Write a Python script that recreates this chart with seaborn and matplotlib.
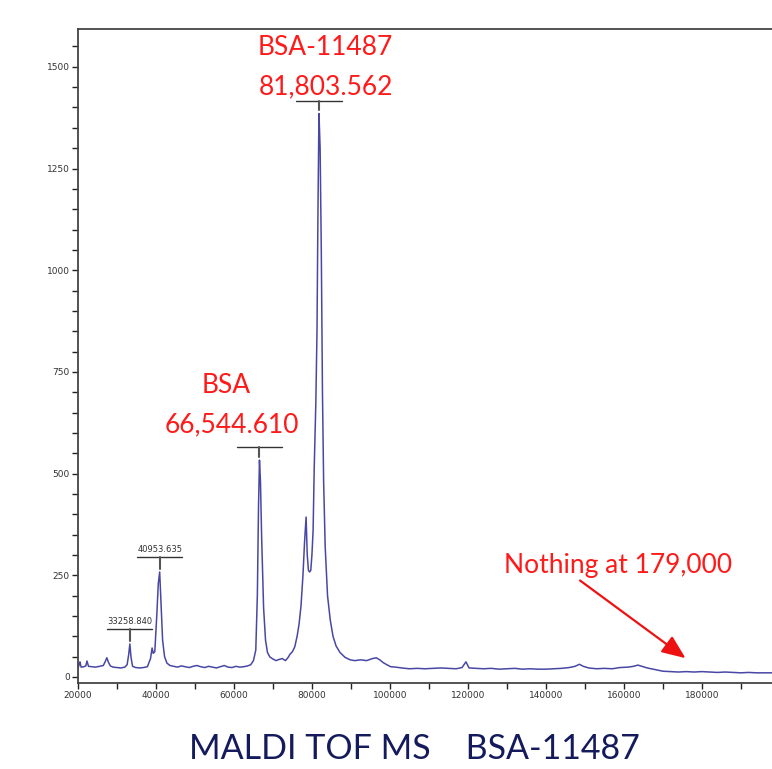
import numpy as np
import pandas as pd
import matplotlib
matplotlib.use("Agg")
import matplotlib.pyplot as plt
import seaborn as sns

# ---- data (m/z, intensity) ----
mz = [20000, 20300, 20500, 20800, 21500, 22000, 22300, 22700, 23500, 24500, 25500, 26500,
      27000, 27400, 27800, 28300, 29000, 30000, 31000, 32000, 32600, 33000, 33300, 33600,
      34000, 34800, 35800, 36800, 37800, 38600, 39000, 39300, 39700, 40200, 40600, 40950,
      41300, 41700, 42200, 42800, 43600, 44500, 45500, 46500, 47500, 48500, 49500, 50500,
      51500, 52500, 53500, 54500, 55500, 56500, 57500, 58500, 59500, 60500, 61500, 62500,
      63500, 64300, 65000, 65600, 66000, 66300, 66544, 66800, 67100, 67600, 68100, 68600,
      69200, 70000, 70800, 71600, 72400, 73200, 73900, 74400, 75000, 75600, 76200, 76700,
      77200, 77700, 78100, 78500, 78800, 79100, 79400, 79700, 80000, 80300, 80600, 81000,
      81300, 81550, 81803, 82100, 82400, 82700, 83000, 83400, 84000, 84700, 85400, 86200,
      87200, 88500, 89800, 91000, 92500, 94000, 95500, 96500, 97400, 98300, 99200, 100200,
      101500, 103000, 105000, 107000, 109000, 111000, 113000, 115000, 117000, 118500, 119500,
      120300, 122000, 124000, 126000, 128000, 130000, 132000, 134000, 136000, 138000, 140000,
      142000, 144000, 146000, 147500, 148600, 149600, 151000, 153000, 155000, 157000, 159000,
      161000, 162500, 163600, 164600, 166000, 168000, 170000, 172000, 174000, 176000, 178000,
      180000, 182000, 184000, 186000, 188000, 190000, 192000, 194000, 196000, 198000]
intensity = [22, 30, 37, 24, 25, 27, 39, 26, 25, 24, 26, 28,
             38, 47, 36, 27, 24, 23, 22, 24, 30, 55, 81, 48,
             26, 23, 22, 23, 25, 45, 71, 58, 62, 150, 230, 258,
             180, 90, 50, 34, 28, 26, 24, 27, 25, 23, 26, 28,
             25, 23, 26, 24, 22, 25, 28, 24, 23, 26, 24, 25,
             27, 30, 40, 66, 200, 420, 533, 480, 344, 170, 90, 60,
             49, 44, 40, 43, 45, 40, 48, 56, 62, 74, 100, 130,
             175, 250, 330, 393, 300, 262, 258, 262, 300, 360, 520, 673,
             850, 1150, 1385, 1300, 1050, 700, 480, 320, 200, 140, 100, 76,
             60, 48, 42, 40, 42, 40, 45, 47, 42, 35, 30, 25,
             24, 22, 20, 21, 20, 21, 22, 21, 20, 23, 37,
             22, 21, 20, 21, 19, 20, 21, 19, 20, 19, 19,
             20, 21, 23, 26, 31, 26, 22, 20, 21, 20, 23,
             24, 26, 29, 26, 22, 18, 14, 13, 12, 13, 12,
             13, 12, 11, 12, 11, 10, 11, 10, 10, 10]

peak_masses = [33258.840, 40953.635, 66544.610, 81803.562]
peak_heights = [81, 258, 533, 1385]
bar_levels = [118, 295, 566, 1416]
small_labels = ["33258.840", "40953.635"]

red_lines_1 = ["BSA", "BSA-11487"]
red_lines_2 = ["66,544.610", "81,803.562"]
red_label_x = [(58000, 59500), (83300, 83500)]
red_label_y = [(716, 620), (1547, 1451)]

note_text = "Nothing at 179,000"
title_text = "MALDI TOF MS    BSA-11487"

x_ticks = [20000, 40000, 60000, 80000, 100000, 120000, 140000, 160000, 180000]
y_ticks = [0, 250, 500, 750, 1000, 1250, 1500]

sns.set_theme(style="white")
plt.rcParams['font.family'] = ['DejaVu Sans']

fig = plt.figure(figsize=(7.72, 7.69), dpi=100)
ax = fig.add_axes([78 / 772, 1 - 683 / 769, 1 - 78 / 772, (683 - 29) / 769])

df = pd.DataFrame({"mz": mz, "intensity": intensity})
sns.lineplot(data=df, x="mz", y="intensity", ax=ax, color="#34349a", linewidth=1.1, alpha=0.9)

ax.set_xlim(20000, 198000)
ax.set_ylim(-15, 1593)
ax.set_xlabel("")
ax.set_ylabel("")

ax.set_xticks(x_ticks)
ax.set_xticklabels([str(t) for t in x_ticks])
ax.set_xticks(np.arange(30000, 198000, 20000), minor=True)
ax.set_yticks(y_ticks)
ax.set_yticklabels([str(t) for t in y_ticks])
ax.set_yticks([v for v in range(0, 1593, 50) if v % 250 != 0], minor=True)
ax.tick_params(axis="both", which="both", direction="out", length=4, width=1,
               color="#222222", labelsize=6.5, labelcolor="#333333", pad=2)
ax.tick_params(axis="x", which="both", bottom=True)
ax.tick_params(axis="y", which="both", left=True)

for side in ["left", "bottom", "top"]:
    ax.spines[side].set_color("#444444")
    ax.spines[side].set_linewidth(1.3)
ax.spines["right"].set_visible(False)

# peak marker bars
half = 5800
for m, h, lv in zip(peak_masses, peak_heights, bar_levels):
    ax.plot([m - half, m + half], [lv, lv], color="#333333", lw=1.0)
    ax.plot([m, m], [lv, h + 8], color="#555555", lw=1.5)
for m, lv, lab in zip(peak_masses[:2], bar_levels[:2], small_labels):
    ax.text(m, lv + 6, lab, ha="center", va="bottom", fontsize=6, color="#333333")

red_font = ['Lato', 'DejaVu Sans']
for l1, l2, (x1, x2), (y1, y2) in zip(red_lines_1, red_lines_2, red_label_x, red_label_y):
    ax.text(x1, y1, l1, ha="center", va="center", fontsize=19, color="#ff1a1a", family=red_font)
    ax.text(x2, y2, l2, ha="center", va="center", fontsize=19, color="#ff1a1a", family=red_font)

ax.text(158500, 275, note_text, ha="center", va="center", fontsize=19,
        color="#ff1a1a", family=red_font)
ax.annotate("", xy=(176400, 42), xytext=(148200, 241),
            arrowprops=dict(arrowstyle="-|>,head_length=1.2,head_width=0.5",
                            color="#ee1111", lw=1.6))

fig.text(414 / 772, 1 - 749 / 769, title_text, ha="center", va="center",
         fontsize=24.5, color="#141a5c", family=['Lato', 'DejaVu Sans'])

fig.savefig("out.png", dpi=100)
